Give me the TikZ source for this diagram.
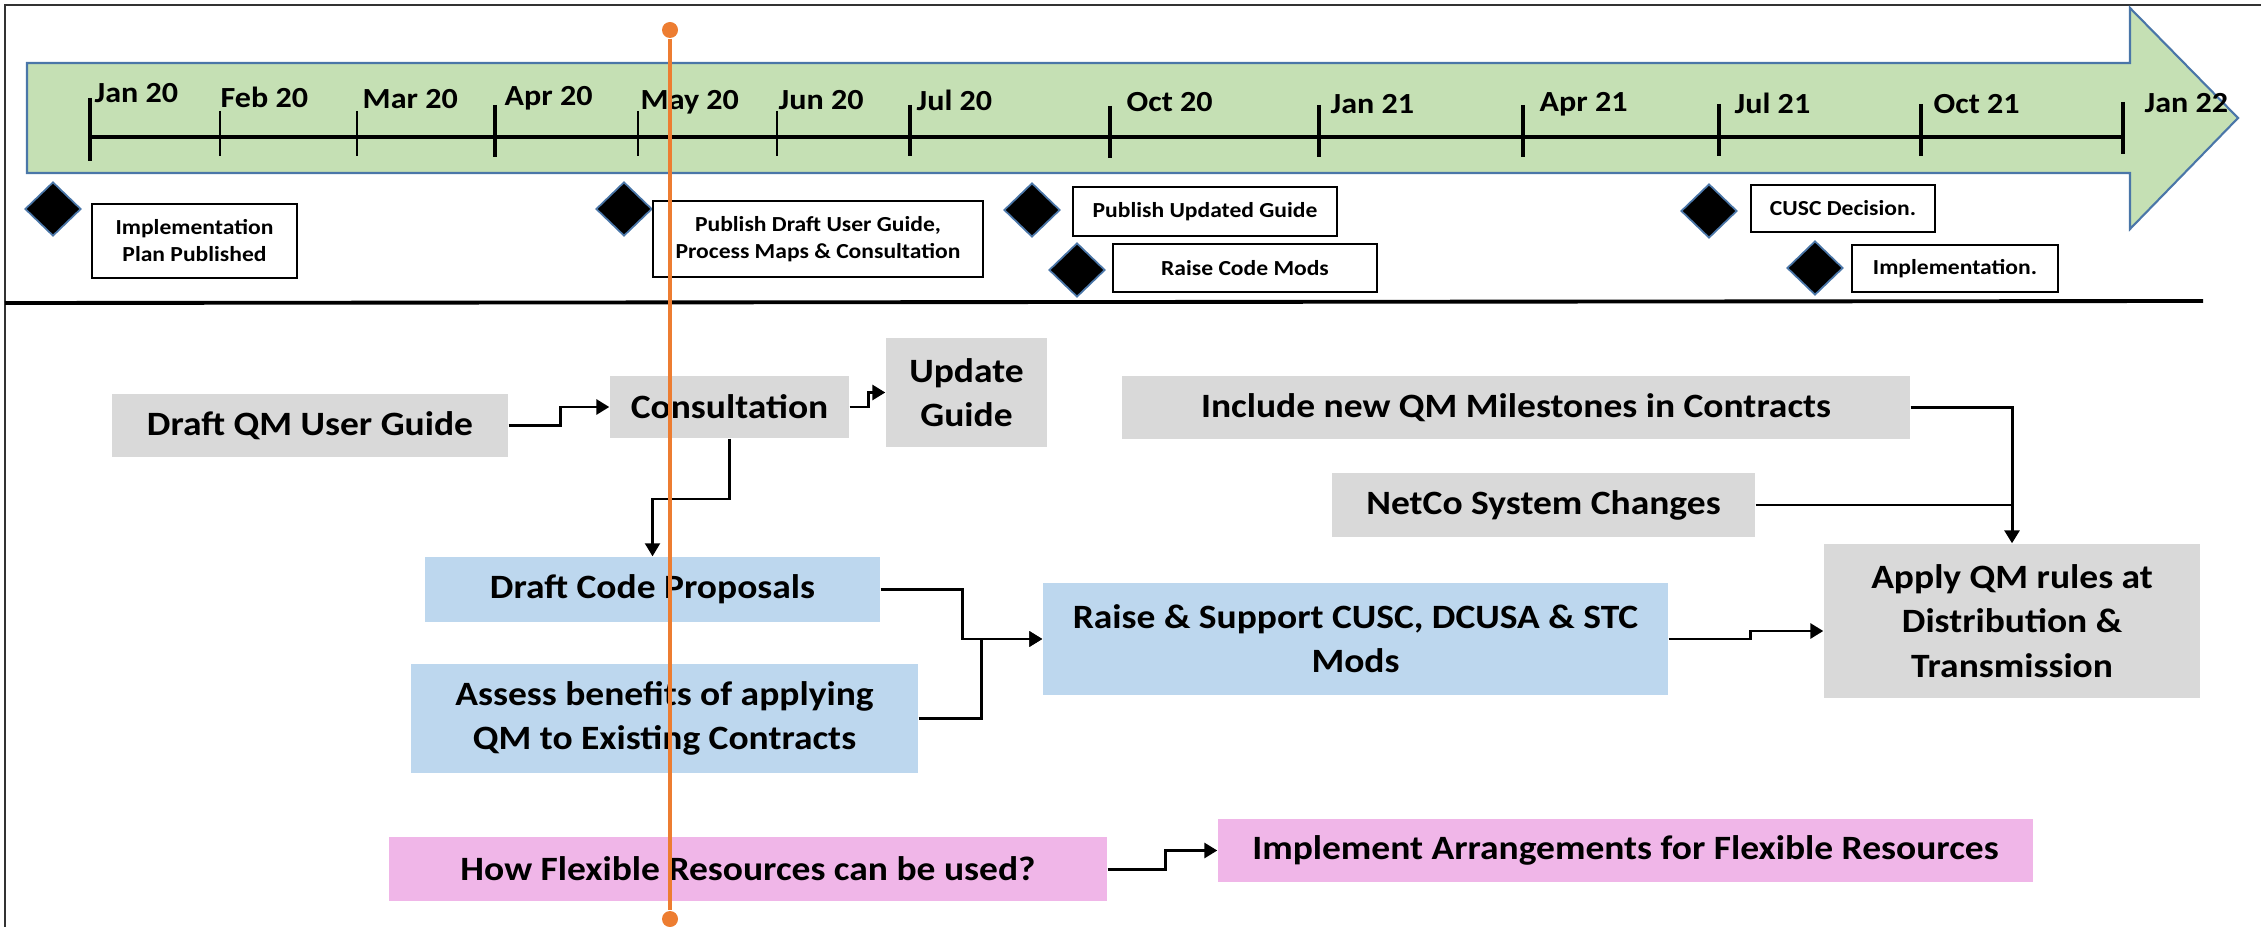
\documentclass[tikz,border=0pt]{standalone}
\usepackage{fontspec}
\setmainfont{Carlito}[FakeStretch=1.1]
\usetikzlibrary{shapes.geometric,arrows.meta}
\definecolor{boxGray}{HTML}{D9D9D9}
\definecolor{boxBlue}{HTML}{BDD7EE}
\definecolor{boxPink}{HTML}{F0B6E8}
\definecolor{bandGreen}{HTML}{C5E0B4}
\definecolor{bandEdge}{HTML}{4A76A8}
\definecolor{nowOrange}{HTML}{ED7D31}

\begin{document}
\begin{tikzpicture}
        \tikzstyle{milestone}=[diamond,draw=bandEdge,fill=black,line width=0.5pt,inner sep=0pt,minimum width=0.56cm,minimum height=0.54cm]
        \tikzstyle{noteBox}=[draw,line width=0.75pt,fill=white,align=center,inner sep=0pt,font=\bfseries\fontsize{6.1}{7.7}\selectfont]
        \tikzstyle{monthLabel}=[anchor=west,inner sep=0pt,font=\bfseries\fontsize{8.3}{10}\selectfont]
        \tikzstyle{taskBox}=[align=center,inner sep=0pt,font=\bfseries\fontsize{9.7}{12.6}\selectfont]
        \tikzstyle{majorTick}=[line width=1.3pt]
        \tikzstyle{minorTick}=[line width=0.7pt]
        \tikzstyle{flowArrow}=[-{Triangle[length=1.3mm,width=1.5mm]}, line width=0.85pt]
        \tikzstyle{orangeDot}=[circle,fill=nowOrange,inner sep=0pt,minimum size=0.16cm]
    \useasboundingbox (0,0) rectangle (22.61,-9.27);
    \draw[line width=0.6pt,black!80] (0.05,-9.27) -- (0.05,-0.05) -- (22.61,-0.05);

    \draw[fill=bandGreen,draw=bandEdge,line width=0.6pt] (0.27,-0.63) -- (21.30,-0.63) -- (21.30,-0.08) -- (22.38,-1.18) -- (21.30,-2.29) -- (21.30,-1.73) -- (0.27,-1.73) -- cycle;
    \draw[line width=1pt] (0.90,-1.37) -- (21.23,-1.37);

    \draw[majorTick] (0.90,-0.98) -- (0.90,-1.61);
    \draw[minorTick] (2.20,-1.11) -- (2.20,-1.56);
    \draw[minorTick] (3.57,-1.11) -- (3.57,-1.56);
    \draw[majorTick] (4.95,-1.05) -- (4.95,-1.57);
    \draw[minorTick] (6.38,-1.11) -- (6.38,-1.56);
    \draw[minorTick] (7.77,-1.11) -- (7.77,-1.56);
    \draw[majorTick] (9.10,-1.05) -- (9.10,-1.56);
    \draw[majorTick] (11.10,-1.06) -- (11.10,-1.58);
    \draw[majorTick] (13.19,-1.05) -- (13.19,-1.57);
    \draw[majorTick] (15.23,-1.05) -- (15.23,-1.57);
    \draw[majorTick] (17.19,-1.04) -- (17.19,-1.56);
    \draw[majorTick] (19.21,-1.04) -- (19.21,-1.56);
    \draw[majorTick] (21.23,-1.02) -- (21.23,-1.54);

    \node[monthLabel] (jan20) at (0.94,-0.93) {Jan 20};
    \node[monthLabel] (feb20) at (2.20,-0.97) {Feb 20};
    \node[monthLabel] (mar20) at (3.62,-0.99) {Mar 20};
    \node[monthLabel] (apr20) at (5.04,-0.98) {Apr 20};
    \node[monthLabel] (may20) at (6.40,-1.02) {May 20};
    \node[monthLabel] (jun20) at (7.78,-1.00) {Jun 20};
    \node[monthLabel] (jul20) at (9.16,-1.00) {Jul 20};
    \node[monthLabel] (oct20) at (11.26,-1.02) {Oct 20};
    \node[monthLabel] (jan21) at (13.30,-1.04) {Jan 21};
    \node[monthLabel] (apr21) at (15.39,-1.04) {Apr 21};
    \node[monthLabel] (jul21) at (17.34,-1.03) {Jul 21};
    \node[monthLabel] (oct21) at (19.33,-1.04) {Oct 21};
    \node[monthLabel] (jan22) at (21.44,-1.03) {Jan 22};

    \node[milestone] (m1) at (0.53,-2.09) {};
    \node[milestone] (m2) at (6.24,-2.09) {};
    \node[milestone] (m3) at (10.32,-2.10) {};
    \node[milestone] (m4) at (10.77,-2.70) {};
    \node[milestone] (m5) at (17.09,-2.11) {};
    \node[milestone] (m6) at (18.15,-2.68) {};

    \node[noteBox,minimum width=2.05cm,minimum height=0.74cm] (n1) at (1.945,-2.41) {Implementation\\Plan Published};
    \node[noteBox,minimum width=3.30cm,minimum height=0.76cm] (n2) at (8.18,-2.39) {Publish Draft User Guide,\\Process Maps \& Consultation};
    \node[noteBox,minimum width=2.64cm,minimum height=0.49cm] (n3) at (12.05,-2.115) {Publish Updated Guide};
    \node[noteBox,minimum width=2.64cm,minimum height=0.48cm] (n4) at (12.45,-2.68) {Raise Code Mods};
    \node[noteBox,minimum width=1.84cm,minimum height=0.47cm] (n5) at (18.43,-2.085) {CUSC Decision.};
    \node[noteBox,minimum width=2.06cm,minimum height=0.47cm] (n6) at (19.55,-2.685) {Implementation.};

    \draw[line width=1.1pt] (0.05,-3.03) -- (22.03,-3.01);

    \node[taskBox,fill=boxGray,minimum width=3.96cm,minimum height=0.63cm] (dqm) at (3.10,-4.255) {Draft QM User Guide};
    \node[taskBox,fill=boxGray,minimum width=2.39cm,minimum height=0.62cm] (consult) at (7.295,-4.07) {Consultation};
    \node[taskBox,fill=boxGray,minimum width=1.61cm,minimum height=1.09cm] (update) at (9.665,-3.925) {Update\\Guide};
    \node[taskBox,fill=boxBlue,minimum width=4.55cm,minimum height=0.65cm] (dcp) at (6.525,-5.895) {Draft Code Proposals};
    \node[taskBox,fill=boxBlue,minimum width=5.07cm,minimum height=1.09cm] (assess) at (6.645,-7.185) {Assess benefits of applying\\QM to Existing Contracts};
    \node[taskBox,fill=boxBlue,minimum width=6.25cm,minimum height=1.12cm] (raise) at (13.555,-6.39) {Raise \& Support CUSC, DCUSA \& STC\\Mods};
    \node[taskBox,fill=boxGray,minimum width=7.88cm,minimum height=0.63cm] (include) at (15.16,-4.075) {Include new QM Milestones in Contracts};
    \node[taskBox,fill=boxGray,minimum width=4.23cm,minimum height=0.64cm] (netco) at (15.435,-5.05) {NetCo System Changes};
    \node[taskBox,fill=boxGray,minimum width=3.76cm,minimum height=1.54cm] (apply) at (20.12,-6.21) {Apply QM rules at\\Distribution \&\\Transmission};
    \node[taskBox,fill=boxPink,minimum width=7.18cm,minimum height=0.64cm] (howflex) at (7.48,-8.69) {How Flexible Resources can be used?};
    \node[taskBox,fill=boxPink,minimum width=8.15cm,minimum height=0.63cm] (implarr) at (16.255,-8.505) {Implement Arrangements for Flexible Resources};

    \draw[flowArrow] (dqm.east) -- ++(0.52,0) |- (consult.west);
    \draw[flowArrow] (consult.east) -- ++(0.19,0) |- (update.west);
    \draw[flowArrow,line width=0.6pt] (consult.south) -- ++(0,-0.60) -| (dcp.north);
    \draw[flowArrow] (dcp.east) -- ++(0.82,0) |- (raise.west);
    \draw[flowArrow] (assess.east) -- ++(0.63,0) |- (raise.west);
    \draw[flowArrow] (raise.east) -- ++(0.82,0) |- ([yshift=-1mm]apply.west);
    \draw[flowArrow] (include.east) -| (apply.north);
    \draw[line width=0.85pt] (netco.east) -- (netco.east -| apply.north);
    \draw[flowArrow] (howflex.east) -- ++(0.58,0) |- (implarr.west);

    \node[orangeDot] (nowTop) at (6.70,-0.30) {};
    \node[orangeDot] (nowBottom) at (6.70,-9.19) {};
    \draw[nowOrange,line width=1.1pt] (nowTop) -- (nowBottom);
    \end{tikzpicture}
\end{document}
